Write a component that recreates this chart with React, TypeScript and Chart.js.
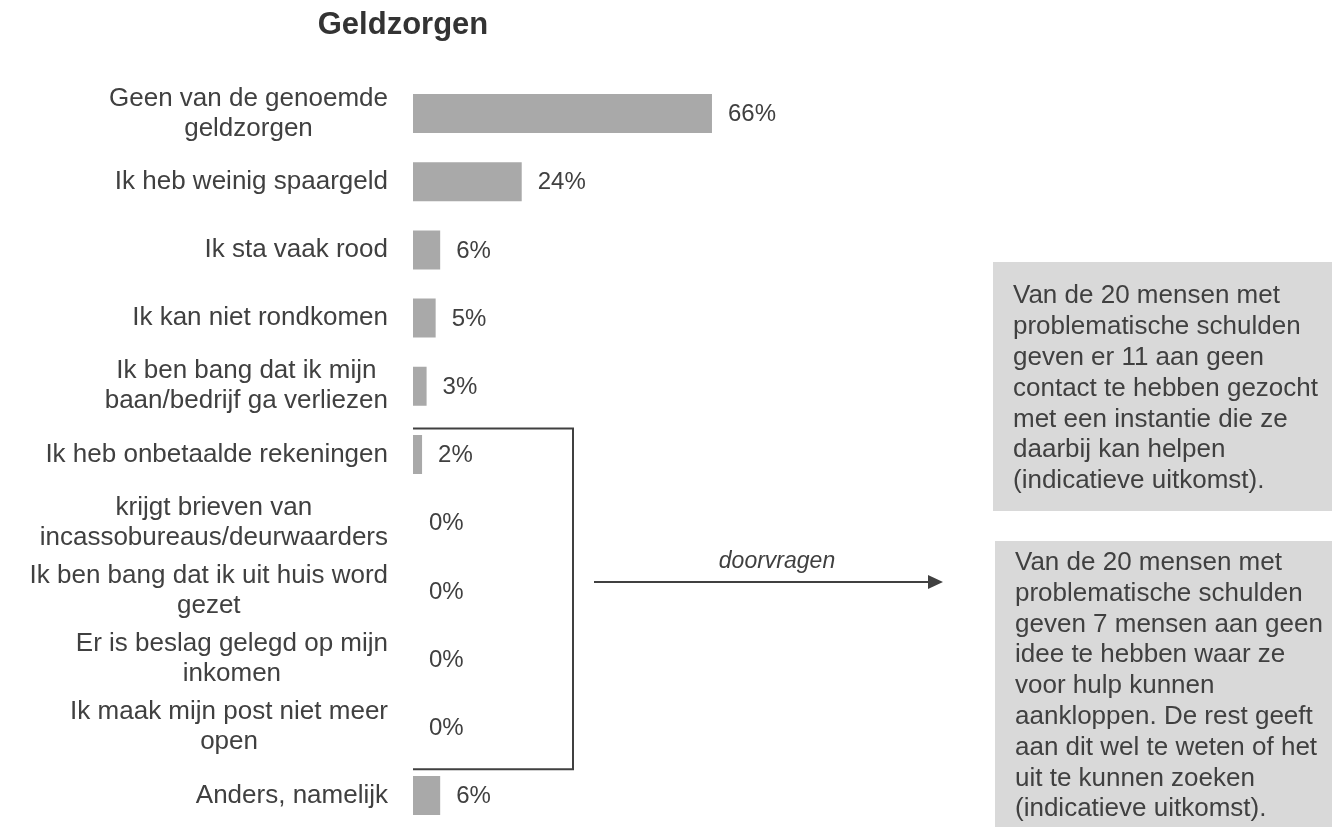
import React, { useEffect, useRef } from "react";
import { Chart, registerables } from "chart.js";

Chart.register(...registerables);

const title = "Geldzorgen";
const categories: string[][] = [
  ["Geen van de genoemde", "geldzorgen"],
  ["Ik heb weinig spaargeld"],
  ["Ik sta vaak rood"],
  ["Ik kan niet rondkomen"],
  ["Ik ben bang dat ik mijn", "baan/bedrijf ga verliezen"],
  ["Ik heb onbetaalde rekeningen"],
  ["krijgt brieven van", "incassobureaus/deurwaarders"],
  ["Ik ben bang dat ik uit huis word", "gezet"],
  ["Er is beslag gelegd op mijn", "inkomen"],
  ["Ik maak mijn post niet meer", "open"],
  ["Anders, namelijk"],
];
const values = [66, 24, 6, 5, 3, 2, 0, 0, 0, 0, 6];
const arrowLabel = "doorvragen";
const box1Lines = [
  "Van de 20 mensen met",
  "problematische schulden",
  "geven er 11 aan geen",
  "contact te hebben gezocht",
  "met een instantie die ze",
  "daarbij kan helpen",
  "(indicatieve uitkomst).",
];
const box2Lines = [
  "Van de 20 mensen met",
  "problematische schulden",
  "geven 7 mensen aan geen",
  "idee te hebben waar ze",
  "voor hulp kunnen",
  "aankloppen. De rest geeft",
  "aan dit wel te weten of het",
  "uit te kunnen zoeken",
  "(indicatieve uitkomst).",
];

const FONT = '"Liberation Sans", Arial, sans-serif';
const TEXT = "#404040";
const BAR = "#a9a9a9";
const BOX = "#d9d9d9";

const overlay = {
  id: "overlay",
  afterDatasetsDraw(chart: any) {
    const { ctx } = chart;
    const x = chart.scales.x;
    const y = chart.scales.y;
    ctx.save();

    // title
    ctx.fillStyle = "#333333";
    ctx.font = `bold 31px ${FONT}`;
    ctx.textAlign = "center";
    ctx.textBaseline = "alphabetic";
    ctx.fillText(title, 403, 34);

    // category labels
    ctx.fillStyle = TEXT;
    ctx.font = `26px ${FONT}`;
    ctx.textAlign = "center";
    ctx.textBaseline = "middle";
    const right = x.left - 25;
    categories.forEach((lines, i) => {
      const cy = y.getPixelForValue(i);
      const maxW = Math.max(...lines.map((l) => ctx.measureText(l).width));
      const cx = right - maxW / 2;
      lines.forEach((l, j) => {
        const ly = cy + (j - (lines.length - 1) / 2) * 30;
        ctx.fillText(l, cx, ly);
      });
    });

    // value labels
    ctx.font = `24px ${FONT}`;
    ctx.textAlign = "left";
    values.forEach((v, i) => {
      const cy = y.getPixelForValue(i);
      ctx.fillText(`${v}%`, x.getPixelForValue(v) + 16, cy + 1);
    });

    // bracket
    ctx.strokeStyle = TEXT;
    ctx.lineWidth = 2;
    const yTop = y.getPixelForValue(5) - 26;
    const yBot = y.getPixelForValue(9) + 42;
    const x0 = x.getPixelForValue(0);
    const x1 = 573;
    ctx.beginPath();
    ctx.moveTo(x0, yTop);
    ctx.lineTo(x1, yTop);
    ctx.lineTo(x1, yBot);
    ctx.lineTo(x0, yBot);
    ctx.stroke();

    // arrow
    ctx.beginPath();
    ctx.moveTo(594, 582);
    ctx.lineTo(930, 582);
    ctx.stroke();
    ctx.fillStyle = TEXT;
    ctx.beginPath();
    ctx.moveTo(928, 575);
    ctx.lineTo(943, 582);
    ctx.lineTo(928, 589);
    ctx.closePath();
    ctx.fill();
    ctx.font = `italic 23px ${FONT}`;
    ctx.textAlign = "center";
    ctx.textBaseline = "alphabetic";
    ctx.fillText(arrowLabel, 777, 568);

    // boxes
    ctx.fillStyle = BOX;
    ctx.fillRect(993, 262, 339, 249);
    ctx.fillRect(995, 541, 337, 299);
    ctx.fillStyle = TEXT;
    ctx.font = `26px ${FONT}`;
    ctx.textAlign = "left";
    box1Lines.forEach((l, i) => ctx.fillText(l, 1013, 303.3 + i * 30.8));
    box2Lines.forEach((l, i) => ctx.fillText(l, 1015, 570 + i * 30.8));

    ctx.restore();
  },
};

export default function App() {
  const ref = useRef<HTMLCanvasElement>(null);
  useEffect(() => {
    if (!ref.current) return;
    const chart = new Chart(ref.current, {
      type: "bar",
      data: {
        labels: categories.map((c) => c.join(" ")),
        datasets: [
          {
            data: values,
            backgroundColor: BAR,
            borderWidth: 0,
            barPercentage: 0.572,
            categoryPercentage: 1,
          },
        ],
      },
      options: {
        indexAxis: "y",
        responsive: false,
        animation: false,
        layout: { padding: { left: 413, right: 466, top: 79.4, bottom: 10.4 } },
        scales: {
          x: { display: false, min: 0, max: 100 },
          y: { display: false, offset: true },
        },
        plugins: { legend: { display: false }, tooltip: { enabled: false } },
      },
      plugins: [overlay],
    });
    return () => chart.destroy();
  }, []);
  return (
    <div
      style={{
        position: "absolute",
        left: 0,
        top: 0,
        width: 1332,
        height: 827,
        overflow: "hidden",
        background: "#ffffff",
      }}
    >
      <canvas ref={ref} width={1332} height={840} style={{ display: "block" }} />
    </div>
  );
}
